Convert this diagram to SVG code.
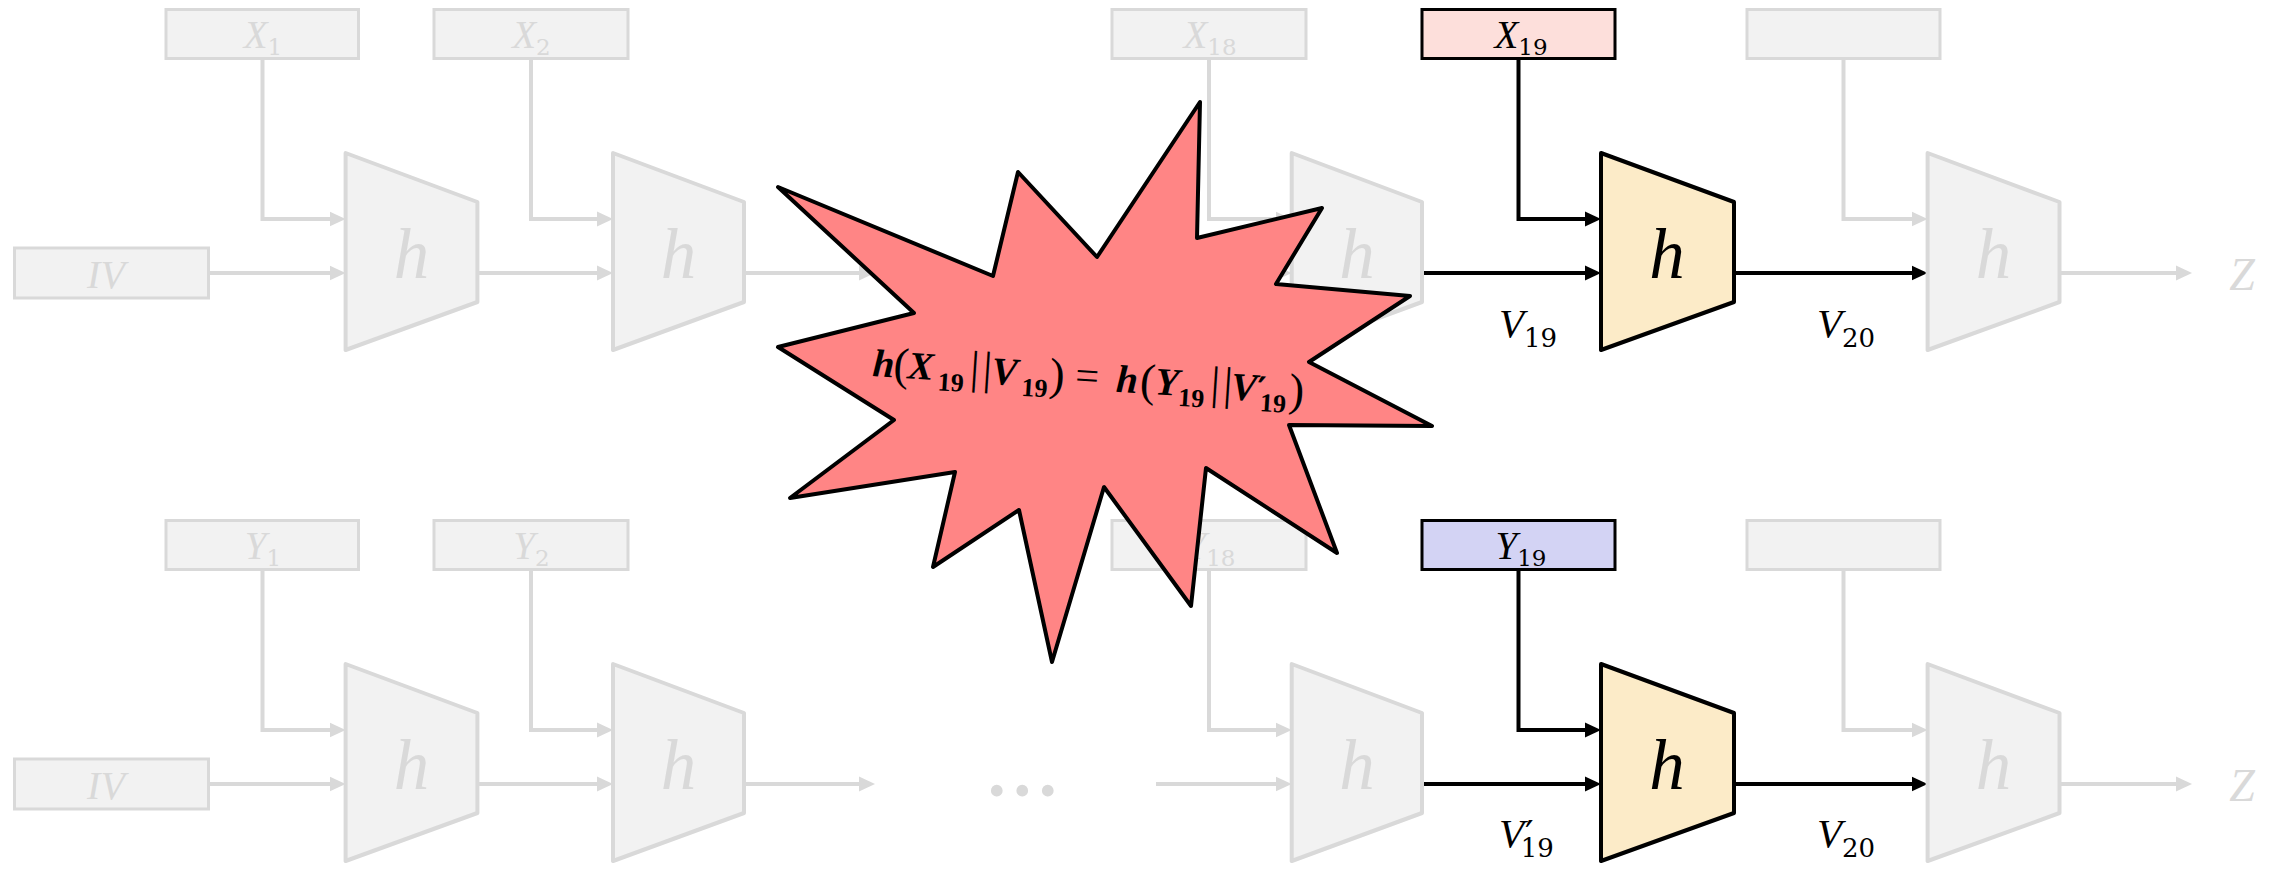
<svg xmlns="http://www.w3.org/2000/svg" width="2275" height="869" viewBox="0 0 2275 869">
<style>
.gbox{fill:#F2F2F2;stroke:#D9D9D9;stroke-width:3}
.gtrap{fill:#F2F2F2;stroke:#D9D9D9;stroke-width:4;stroke-linejoin:round}
.btrap{fill:#FCEBC8;stroke:#000;stroke-width:4;stroke-linejoin:round}
.xbox{fill:#FDDFDB;stroke:#000;stroke-width:3}
.ybox{fill:#D3D3F4;stroke:#000;stroke-width:3}
.gl{fill:none;stroke:#D9D9D9;stroke-width:4;marker-end:url(#ag)}
.bl{fill:none;stroke:#000;stroke-width:4;marker-end:url(#ab)}
.g{fill:#D9D9D9}
.k{fill:#000}
.it{font-family:"Liberation Serif",serif;font-style:italic}
.sub{font-family:"DejaVu Serif",serif;font-style:normal}
.pr{font-family:"DejaVu Sans",sans-serif;font-style:normal}
.bl38{font-size:39px}
.hh{font-family:"Liberation Serif",serif;font-style:italic;font-size:71px}
.star{fill:#FF8585;stroke:#000;stroke-width:4;stroke-linejoin:round}
.fb{font-family:"Liberation Serif",serif;font-style:italic;font-weight:bold;font-size:39px}
.fd{font-family:"Liberation Serif",serif;font-weight:bold;font-size:26px}
.fp{font-family:"Liberation Serif",serif;font-size:46px}
.fe{font-family:"Liberation Serif",serif;font-size:42px}
</style>
<defs>
<marker id="ag" markerUnits="userSpaceOnUse" markerWidth="17" markerHeight="16" refX="8" refY="8" orient="auto"><path d="M0,0.5 L16,8 L0,15.5 Z" fill="#D9D9D9"/></marker>
<marker id="ab" markerUnits="userSpaceOnUse" markerWidth="17" markerHeight="16" refX="8" refY="8" orient="auto"><path d="M0,0.5 L16,8 L0,15.5 Z" fill="#000"/></marker>
</defs>

<g id="connectors">
<path class="gl" d="M208.4,273 H337.6"/>
<path class="gl" d="M477.4,273 H605"/>
<path class="gl" d="M744,273 H867"/>
<path class="gl" d="M1156,273 H1283.7"/>
<path class="gl" d="M262.5,58.5 V219 H337.6"/>
<path class="gl" d="M531,58.5 V219 H605"/>
<path class="gl" d="M1209,58.5 V219 H1283.7"/>
<path class="gl" d="M1843.5,58.5 V219 H1919.6"/>
<path class="gl" d="M2059.5,273 H2184"/>
<path class="bl" d="M1422,273 H1593"/>
<path class="bl" d="M1518.5,58.5 V219 H1593"/>
<path class="bl" d="M1734,273 H1919.6"/>

<path class="gl" d="M208.4,784 H337.6"/>
<path class="gl" d="M477.4,784 H605"/>
<path class="gl" d="M744,784 H867"/>
<path class="gl" d="M1156,784 H1283.7"/>
<path class="gl" d="M262.5,569.5 V730 H337.6"/>
<path class="gl" d="M531,569.5 V730 H605"/>
<path class="gl" d="M1209,569.5 V730 H1283.7"/>
<path class="gl" d="M1843.5,569.5 V730 H1919.6"/>
<path class="gl" d="M2059.5,784 H2184"/>
<path class="bl" d="M1422,784 H1593"/>
<path class="bl" d="M1518.5,569.5 V730 H1593"/>
<path class="bl" d="M1734,784 H1919.6"/>
</g>

<!-- top row -->
<g id="iv-top"><rect class="gbox" x="14.5" y="248" width="194" height="50"/><text class="it g" x="106" y="288" font-size="40" text-anchor="middle">IV</text></g>
<g id="x1"><rect class="gbox" x="166" y="9.5" width="192.5" height="49"/><text class="g" x="263" y="47.5" text-anchor="middle"><tspan class="it bl38">X</tspan><tspan class="sub" font-size="23" dy="7">1</tspan></text></g>
<g id="x2"><rect class="gbox" x="434" y="9.5" width="194" height="49"/><text class="g" x="531.5" y="47.5" text-anchor="middle"><tspan class="it bl38">X</tspan><tspan class="sub" font-size="23" dy="7">2</tspan></text></g>
<g id="x18"><rect class="gbox" x="1112" y="9.5" width="194" height="49"/><text class="g" x="1210" y="47.5" text-anchor="middle"><tspan class="it bl38">X</tspan><tspan class="sub" font-size="23" dy="7">18</tspan></text></g>
<g id="x19"><rect class="xbox" x="1422" y="9.5" width="193" height="49"/><text class="k" x="1521" y="47.5" text-anchor="middle"><tspan class="it bl38">X</tspan><tspan class="sub" font-size="23" dy="7">19</tspan></text></g>
<g id="x20"><rect class="gbox" x="1747" y="9.5" width="193" height="49"/></g>
<g id="h1-top"><path class="gtrap" d="M345.6,153 L477.4,202 L477.4,302 L345.6,350 Z"/><text class="hh g" x="411.5" y="278" text-anchor="middle">h</text></g>
<g id="h2-top"><path class="gtrap" d="M613,153 L744,202 L744,302 L613,350 Z"/><text class="hh g" x="678.5" y="278" text-anchor="middle">h</text></g>
<g id="h18-top"><path class="gtrap" d="M1291.7,153 L1422,202 L1422,302 L1291.7,350 Z"/><text class="hh g" x="1357" y="278" text-anchor="middle">h</text></g>
<g id="h19-top"><path class="btrap" d="M1601,153 L1734,202 L1734,302 L1601,350 Z"/><text class="hh k" x="1667" y="278" text-anchor="middle">h</text></g>
<g id="h20-top"><path class="gtrap" d="M1927.6,153 L2059.5,202 L2059.5,302 L1927.6,350 Z"/><text class="hh g" x="1993.5" y="278" text-anchor="middle">h</text></g>
<g id="z-top"><text class="it g" x="2242" y="290" font-size="46" text-anchor="middle">Z</text></g>
<g id="v19-top"><text class="k" x="1499" y="337"><tspan class="it" font-size="41">V</tspan><tspan class="sub" font-size="26" dy="10">19</tspan></text></g>
<g id="v20-top"><text class="k" x="1817" y="337"><tspan class="it" font-size="41">V</tspan><tspan class="sub" font-size="26" dy="10">20</tspan></text></g>

<!-- bottom row -->
<g id="iv-bot"><rect class="gbox" x="14.5" y="759" width="194" height="50"/><text class="it g" x="106" y="799" font-size="40" text-anchor="middle">IV</text></g>
<g id="y1"><rect class="gbox" x="166" y="520.5" width="192.5" height="49"/><text class="g" x="263" y="558.5" text-anchor="middle"><tspan class="it bl38">Y</tspan><tspan class="sub" font-size="23" dy="7">1</tspan></text></g>
<g id="y2"><rect class="gbox" x="434" y="520.5" width="194" height="49"/><text class="g" x="531.5" y="558.5" text-anchor="middle"><tspan class="it bl38">Y</tspan><tspan class="sub" font-size="23" dy="7">2</tspan></text></g>
<g id="y18"><rect class="gbox" x="1112" y="520.5" width="194" height="49"/><text class="g" x="1210" y="558.5" text-anchor="middle"><tspan class="it bl38">Y</tspan><tspan class="sub" font-size="23" dy="7">18</tspan></text></g>
<g id="y19"><rect class="ybox" x="1422" y="520.5" width="193" height="49"/><text class="k" x="1521" y="558.5" text-anchor="middle"><tspan class="it bl38">Y</tspan><tspan class="sub" font-size="23" dy="7">19</tspan></text></g>
<g id="y20"><rect class="gbox" x="1747" y="520.5" width="193" height="49"/></g>
<g id="h1-bot"><path class="gtrap" d="M345.6,664 L477.4,713 L477.4,813 L345.6,861 Z"/><text class="hh g" x="411.5" y="789" text-anchor="middle">h</text></g>
<g id="h2-bot"><path class="gtrap" d="M613,664 L744,713 L744,813 L613,861 Z"/><text class="hh g" x="678.5" y="789" text-anchor="middle">h</text></g>
<g id="dots"><text x="1026" y="796" font-family="Liberation Serif, serif" font-weight="bold" font-size="72" letter-spacing="7.5" class="g" text-anchor="middle">...</text></g>
<g id="h18-bot"><path class="gtrap" d="M1291.7,664 L1422,713 L1422,813 L1291.7,861 Z"/><text class="hh g" x="1357" y="789" text-anchor="middle">h</text></g>
<g id="h19-bot"><path class="btrap" d="M1601,664 L1734,713 L1734,813 L1601,861 Z"/><text class="hh k" x="1667" y="789" text-anchor="middle">h</text></g>
<g id="h20-bot"><path class="gtrap" d="M1927.6,664 L2059.5,713 L2059.5,813 L1927.6,861 Z"/><text class="hh g" x="1993.5" y="789" text-anchor="middle">h</text></g>
<g id="z-bot"><text class="it g" x="2242" y="801" font-size="46" text-anchor="middle">Z</text></g>
<g id="v19p-bot"><text class="k" x="1499" y="847"><tspan class="it" font-size="41">V</tspan><tspan class="pr" font-size="38" dx="1">′</tspan><tspan class="sub" font-size="26" dx="-13" dy="10">19</tspan></text></g>
<g id="v20-bot"><text class="k" x="1817" y="847"><tspan class="it" font-size="41">V</tspan><tspan class="sub" font-size="26" dy="10">20</tspan></text></g>

<!-- collision star -->
<g id="collision">
<polygon class="star" points="778,187 993,276 1018,172 1097,257 1200,102 1197,238 1322,208 1276,284 1410,296 1309,362 1432,426 1289,425 1337,553 1206,468 1191,606 1104,487 1052,662 1019,510 933,567 955,472 790,498 894,420 778,347 914,313"/>
<g transform="translate(872,376) rotate(3.7)">
<text class="k">
<tspan class="fb" x="0" y="0">h</tspan><tspan class="fp" x="21" y="2">(</tspan><tspan class="fb" x="35" y="0">X</tspan><tspan class="fd" x="66" y="10">19</tspan><tspan class="fp" x="95" y="0" font-style="italic">||</tspan><tspan class="fb" x="119" y="0">V</tspan><tspan class="fd" x="150" y="10">19</tspan><tspan class="fp" x="177" y="2">)</tspan><tspan class="fe" x="203" y="0">=</tspan><tspan class="fb" x="244" y="0">h</tspan><tspan class="fp" x="268" y="2">(</tspan><tspan class="fb" x="283" y="0">Y</tspan><tspan class="fd" x="307" y="10">19</tspan><tspan class="fp" x="336" y="0" font-style="italic">||</tspan><tspan class="fb" x="359" y="0">V</tspan><tspan class="pr" font-size="34" font-weight="bold" x="385" y="0">′</tspan><tspan class="fd" x="389" y="10">19</tspan><tspan class="fp" x="417" y="2">)</tspan>
</text>
</g>
</g>
</svg>
